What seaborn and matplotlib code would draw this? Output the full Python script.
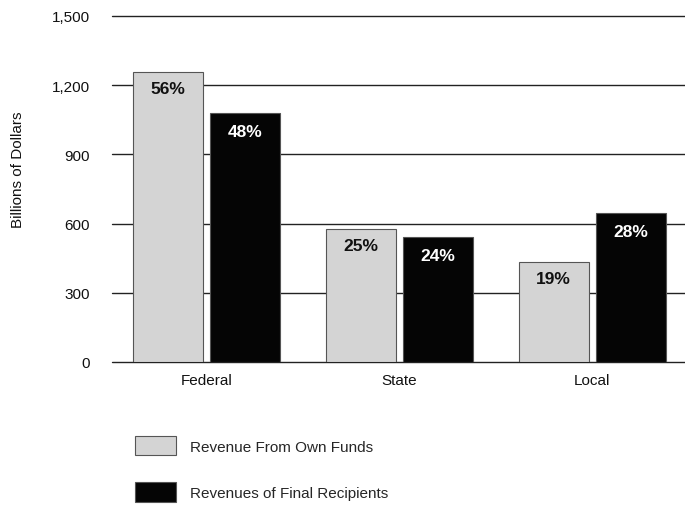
import matplotlib
matplotlib.use("Agg")
import matplotlib.pyplot as plt
import seaborn as sns
import pandas as pd

categories = ["Federal", "State", "Local"]
series_names = ["Revenue From Own Funds", "Revenues of Final Recipients"]
own_funds = [1257, 577, 433]
final_recipients = [1080, 542, 646]
own_pct = ["56%", "25%", "19%"]
final_pct = ["48%", "24%", "28%"]
yticks = [0, 300, 600, 900, 1200, 1500]
ytick_labels = ["0", "300", "600", "900", "1,200", "1,500"]

df = pd.DataFrame({
    "Level": categories * 2,
    "Series": [series_names[0]] * 3 + [series_names[1]] * 3,
    "Value": own_funds + final_recipients,
})

sns.set_theme(style="white")
plt.rcParams["font.family"] = ["Liberation Sans", "DejaVu Sans"]

fig = plt.figure(figsize=(6.85, 5.06), dpi=100)
ax = fig.add_axes([112/685, 1 - 363/506, 1 - 112/685, (363 - 17)/506])

sns.barplot(data=df, x="Level", y="Value", hue="Series", ax=ax,
            palette=["#d4d4d4", "#050505"], width=0.8, gap=0.09,
            edgecolor="#555555", linewidth=0.8, legend=True, zorder=3)

ax.set_ylim(0, 1500)
ax.set_xlim(-0.49, 2.48)
ax.set_yticks(yticks)
ax.set_yticklabels(ytick_labels, fontsize=11, color="#111111")
ax.tick_params(axis="y", length=0, pad=16)
ax.tick_params(axis="x", length=0, pad=8, labelsize=11, labelcolor="#111111")
ax.set_xlabel("")
ax.set_ylabel("")
for s in ax.spines.values():
    s.set_visible(False)
ax.yaxis.grid(True, color="#222222", linewidth=1.0, zorder=0)
ax.set_axisbelow(True)
for gl in ax.get_ygridlines():
    gl.set_clip_on(False)

containers = ax.containers
ax.bar_label(containers[0], labels=own_pct, padding=-17, color="#111111",
             fontsize=12.5, fontweight="bold")
ax.bar_label(containers[1], labels=final_pct, padding=-19, color="white",
             fontsize=12.5, fontweight="bold")

handles, labels = ax.get_legend_handles_labels()
ax.get_legend().remove()
fig.legend(handles, labels, loc="upper left", bbox_to_anchor=(121/685, 1 - 423/506),
           frameon=False, fontsize=11, handlelength=2.7, handleheight=1.6,
           labelspacing=1.75, handletextpad=0.9)

fig.text(18/685, 1 - 170/506, "Billions of Dollars", rotation=90,
         ha="center", va="center", fontsize=11, color="#111111")

fig.savefig("out.png", dpi=100)
